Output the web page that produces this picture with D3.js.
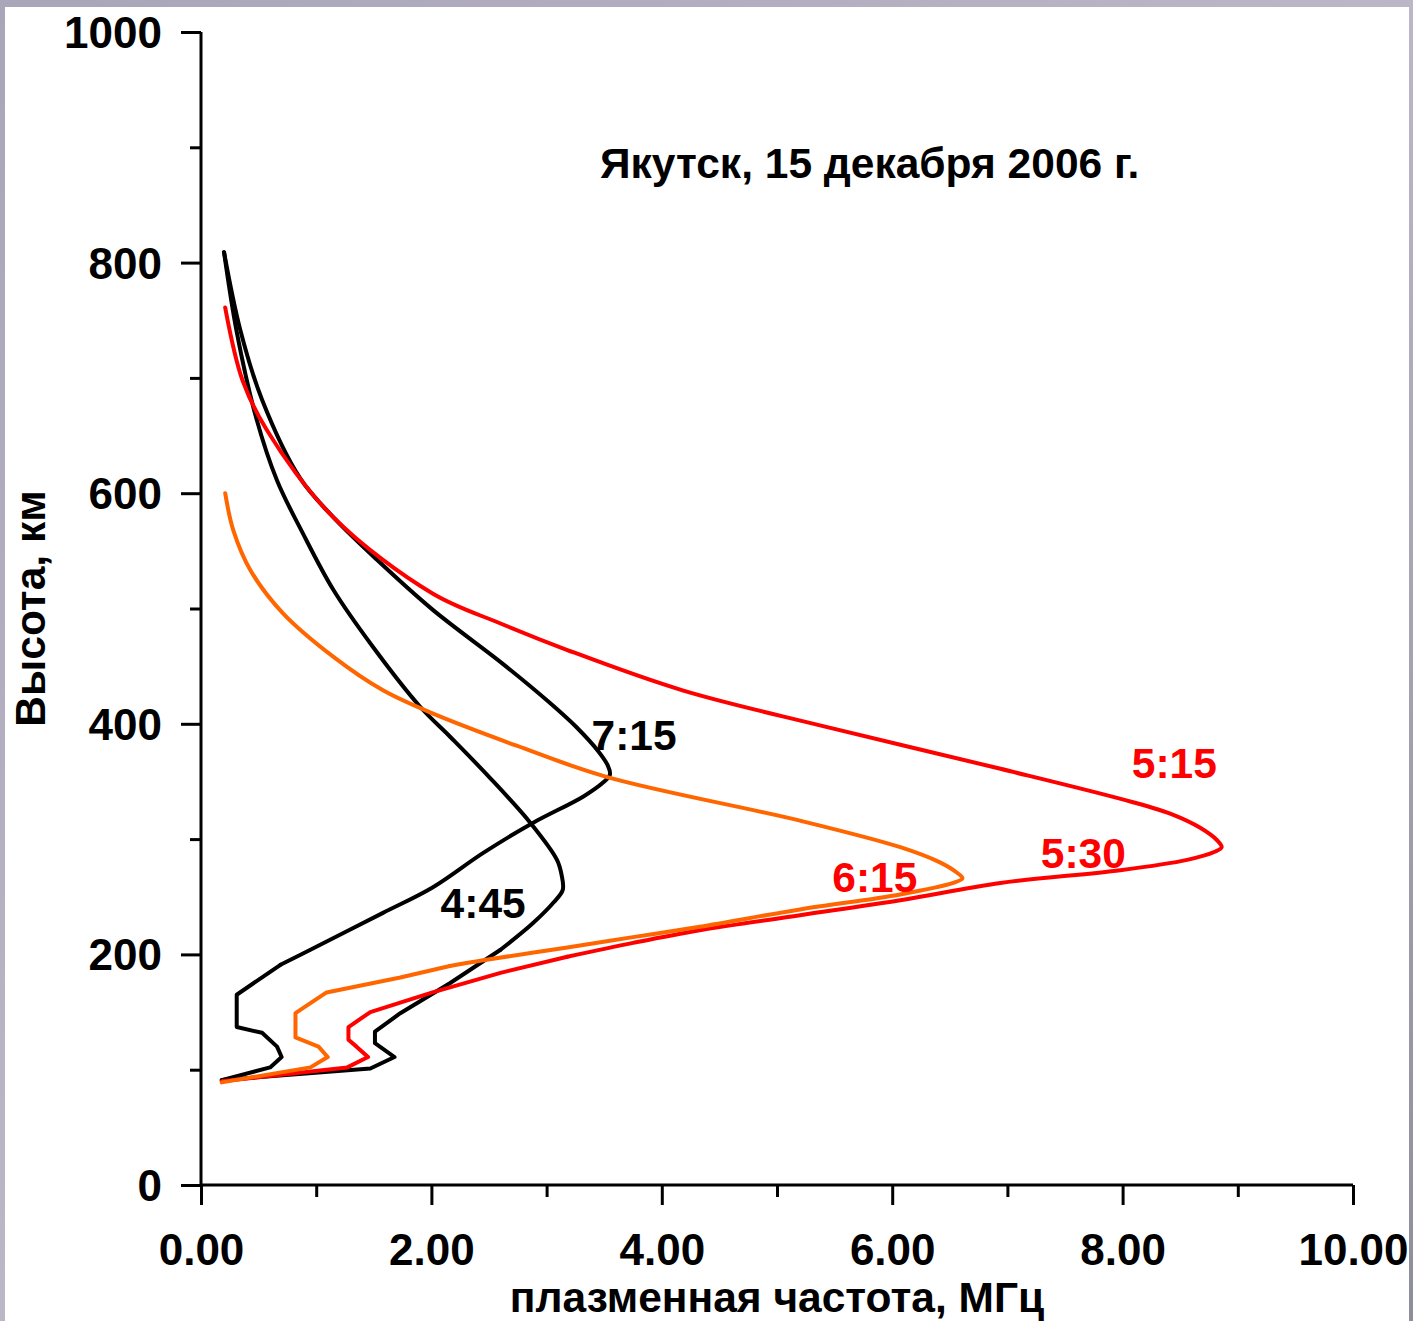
<!DOCTYPE html>
<html>
<head>
<meta charset="utf-8">
<script src="https://cdn.jsdelivr.net/npm/d3@7"></script>
<style>
  html, body { margin: 0; padding: 0; background: #fff; }
  svg { display: block; }
  text { font-family: "Liberation Sans", Arial, sans-serif; font-weight: bold; }
</style>
</head>
<body>
<svg id="chart" width="1413" height="1321"></svg>
<script>
// Electron density profiles over Yakutsk: plasma frequency (MHz) vs height (km).
// Each profile is a list of [frequency, height] pairs from the bottom up.
const profile445 = [
  [0.18, 91], [1.47, 101], [1.68, 111], [1.51, 123], [1.51, 133], [1.73, 149],
  [2.16, 175], [2.60, 204], [2.88, 227], [3.06, 245], [3.14, 256], [3.13, 269],
  [3.09, 282], [2.86, 314], [2.50, 354], [2.16, 389], [1.90, 415], [1.49, 467],
  [1.15, 516], [0.88, 566], [0.66, 611], [0.48, 665], [0.31, 740], [0.20, 809]
];
const profile715 = [
  [0.18, 91], [0.60, 102], [0.70, 111], [0.66, 120], [0.53, 132], [0.31, 137],
  [0.31, 165], [0.69, 191], [0.95, 204], [1.58, 236], [2.01, 258], [2.45, 288],
  [2.88, 314], [3.32, 337], [3.49, 349], [3.55, 356], [3.53, 364], [3.45, 376],
  [3.26, 397], [3.03, 418], [2.62, 452], [2.01, 499], [1.53, 542],
  [1.15, 579], [0.86, 613], [0.53, 681], [0.34, 742], [0.20, 809]
];
const profile515 = [
  [0.18, 90], [1.27, 102], [1.45, 111], [1.35, 120], [1.28, 126], [1.28, 137],
  [1.47, 150], [2.01, 167], [2.60, 184], [3.18, 198], [3.75, 210], [4.33, 221],
  [5.20, 234], [6.07, 247], [6.94, 262], [7.98, 273], [8.56, 282], [8.80, 289],
  [8.86, 293], [8.82, 299], [8.67, 310], [8.44, 321], [8.09, 332], [6.94, 361],
  [5.40, 398], [4.18, 429], [3.18, 464], [2.60, 487], [2.01, 513],
  [1.15, 579], [0.57, 655], [0.36, 698], [0.21, 761]
];
const profile615 = [
  [0.18, 89], [0.95, 102], [1.10, 111], [1.02, 120], [0.82, 128], [0.82, 149],
  [1.09, 167], [1.73, 180], [2.16, 190], [2.45, 195], [3.18, 206], [3.75, 215],
  [4.33, 224], [5.20, 239], [6.07, 252], [6.53, 262], [6.61, 266], [6.56, 271],
  [6.41, 280], [6.07, 293], [5.20, 316], [3.52, 354], [2.74, 381],
  [2.01, 409], [1.58, 429], [1.15, 458], [0.71, 496], [0.43, 533],
  [0.28, 568], [0.21, 600]
];

const seriesNames = ["4:45", "7:15", "5:15", "6:15"];
const seriesColors = ["#000000", "#000000", "#ff0000", "#ff6600"];
const seriesData = [profile445, profile715, profile515, profile615];

// Curve labels: text, colour, anchor position in data units (frequency, height of baseline)
const labelTexts = ["7:15", "5:15", "5:30", "6:15", "4:45"];
const labelColors = ["#000000", "#ff0000", "#ff0000", "#ff0000", "#000000"];
const labelPos = [[3.39, 377], [8.08, 353], [7.29, 275], [5.48, 254], [2.08, 232]];

const xTicks = [0, 2, 4, 6, 8, 10];
const xMinorTicks = [1, 3, 5, 7, 9];
const yTicks = [0, 200, 400, 600, 800, 1000];
const yMinorTicks = [100, 300, 500, 700, 900];

const titleText = "Якутск, 15 декабря 2006 г.";
const xTitle = "плазменная частота, МГц";
const yTitle = "Высота, км";

const W = 1413, H = 1321;
const svg = d3.select("#chart");

// slide-like grey frame around the white page
const defs = svg.append("defs");
const grad = defs.append("linearGradient").attr("id", "frame").attr("x1", 0).attr("y1", 0).attr("x2", 1).attr("y2", 1);
grad.append("stop").attr("offset", "0%").attr("stop-color", "#a8a6b8");
grad.append("stop").attr("offset", "50%").attr("stop-color", "#bdb6c6");
grad.append("stop").attr("offset", "100%").attr("stop-color", "#8e8e9a");
svg.append("rect").attr("width", W).attr("height", H).attr("fill", "url(#frame)");
svg.append("rect").attr("x", 5).attr("y", 7).attr("width", 1404).attr("height", H - 7).attr("fill", "#fff");

const x = d3.scaleLinear().domain([0, 10]).range([201, 1353]);
const y = d3.scaleLinear().domain([0, 1000]).range([1185, 32]);

// axes
const axisW = 3;
const gx = svg.append("g").attr("transform", `translate(0,${y(0)})`);
gx.call(d3.axisBottom(x).tickValues(xTicks).tickSize(20).tickFormat(d3.format(".2f")));
gx.append("g").call(d3.axisBottom(x).tickValues(xMinorTicks).tickSize(12).tickFormat(""));
const gy = svg.append("g").attr("transform", `translate(${x(0)},0)`);
gy.call(d3.axisLeft(y).tickValues(yTicks).tickSize(20).tickFormat(d3.format("d")));
gy.append("g").call(d3.axisLeft(y).tickValues(yMinorTicks).tickSize(11).tickFormat(""));

svg.selectAll(".domain").attr("stroke", "#000").attr("stroke-width", axisW).attr("fill", "none");
svg.selectAll(".tick line").attr("stroke", "#000").attr("stroke-width", axisW);
gx.select(".domain").attr("d", `M${x(0)},0H${x(10)}`);
gx.selectAll("g > .domain").filter((d, i) => i > 0).remove();
gy.select(".domain").attr("d", `M0,${y(1000)}V${y(0)}`);
gy.selectAll("g > g > .domain").remove();

gx.selectAll(".tick text").attr("font-size", 44).attr("fill", "#000")
  .attr("font-family", '"Liberation Sans", Arial, sans-serif').attr("font-weight", "bold")
  .attr("dy", null).attr("y", 80);
gy.selectAll(".tick text").attr("font-size", 44).attr("fill", "#000")
  .attr("font-family", '"Liberation Sans", Arial, sans-serif').attr("font-weight", "bold")
  .attr("x", -39).attr("dy", "0.35em");

// profiles: the E-region part is drawn as straight segments, the F-region part as a smooth curve
const lineLow = d3.line().x(d => x(d[0])).y(d => y(d[1])).curve(d3.curveLinear);
const lineHigh = d3.line().x(d => x(d[0])).y(d => y(d[1])).curve(d3.curveCatmullRom.alpha(0.5));
const gProf = svg.append("g");
seriesData.forEach((pts, i) => {
  const k = pts.findIndex(p => p[1] >= 185);
  [[pts.slice(0, k + 1), lineLow], [pts.slice(k), lineHigh]].forEach(([part, gen]) => {
    gProf.append("path")
      .attr("d", gen(part))
      .attr("fill", "none")
      .attr("stroke", seriesColors[i])
      .attr("stroke-width", 4)
      .attr("stroke-linejoin", "round")
      .attr("stroke-linecap", "round");
  });
});

// curve labels
svg.append("g").selectAll("text").data(labelTexts).join("text")
  .attr("x", (d, i) => x(labelPos[i][0]))
  .attr("y", (d, i) => y(labelPos[i][1]))
  .attr("fill", (d, i) => labelColors[i])
  .attr("font-size", 42.5)
  .text(d => d);

// title and axis titles
svg.append("text").attr("x", 600).attr("y", 178).attr("font-size", 42.5).attr("fill", "#000").text(titleText);
svg.append("text").attr("x", (x(0) + x(10)) / 2).attr("y", 1312).attr("text-anchor", "middle")
  .attr("font-size", 42.5).attr("fill", "#000").text(xTitle);
svg.append("text").attr("transform", `translate(45,${(y(0) + y(1000)) / 2}) rotate(-90)`)
  .attr("text-anchor", "middle").attr("font-size", 42.5).attr("fill", "#000").text(yTitle);
</script>
</body>
</html>
